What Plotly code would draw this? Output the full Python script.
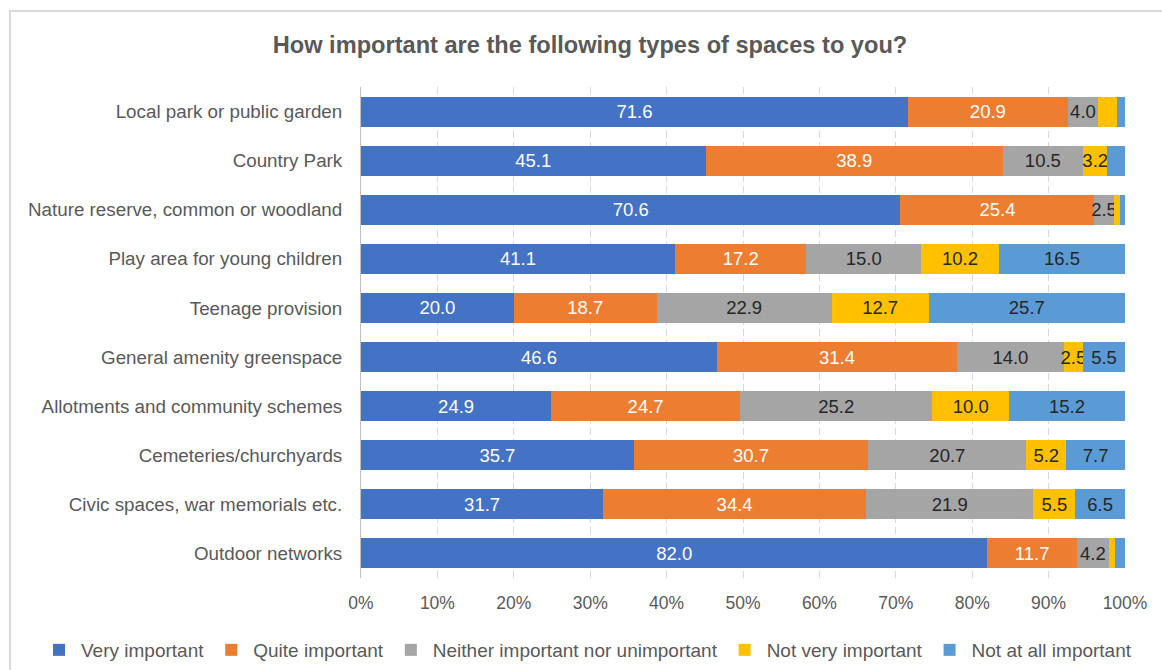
import plotly.graph_objects as go

# Survey responses, percent of respondents per type of space
categories = [
    "Local park or public garden",
    "Country Park",
    "Nature reserve, common or woodland",
    "Play area for young children",
    "Teenage provision",
    "General amenity greenspace",
    "Allotments and community schemes",
    "Cemeteries/churchyards",
    "Civic spaces, war memorials etc.",
    "Outdoor networks",
]
very_important = [71.6, 45.1, 70.6, 41.1, 20.0, 46.6, 24.9, 35.7, 31.7, 82.0]
quite_important = [20.9, 38.9, 25.4, 17.2, 18.7, 31.4, 24.7, 30.7, 34.4, 11.7]
neither = [4.0, 10.5, 2.5, 15.0, 22.9, 14.0, 25.2, 20.7, 21.9, 4.2]
not_very_important = [2.4, 3.2, 0.8, 10.2, 12.7, 2.5, 10.0, 5.2, 5.5, 0.8]
not_at_all_important = [1.1, 2.3, 0.7, 16.5, 25.7, 5.5, 15.2, 7.7, 6.5, 1.3]

series_names = [
    "Very important",
    "Quite important",
    "Neither important nor unimportant",
    "Not very important",
    "Not at all important",
]
series_values = [very_important, quite_important, neither,
                 not_very_important, not_at_all_important]
series_colors = ["#4472C4", "#ED7D31", "#A5A5A5", "#FFC000", "#5B9BD5"]
label_colors = ["#FFFFFF", "#FFFFFF", "#262626", "#262626", "#262626"]
x_ticks = list(range(0, 101, 10))

FONT = "Liberation Sans, Arial, sans-serif"
W, H = 1162, 670
ML, MR, MT, MB = 361, 37, 87, 92

fig = go.Figure()
for name, vals, col, lcol in zip(series_names, series_values, series_colors, label_colors):
    fig.add_trace(go.Bar(
        y=categories,
        x=vals,
        name=name,
        orientation="h",
        marker=dict(color=col, line=dict(width=0)),
        text=[f"{v:.1f}" if v >= 2.5 else "" for v in vals],
        textposition="inside",
        insidetextanchor="middle",
        textangle=0,
        constraintext="none",
        textfont=dict(family=FONT, size=18.5, color=lcol),
        hoverinfo="x+y+name",
    ))

# outer chart frame (light grey border, extending past right/bottom edges)
pw, ph = W - ML - MR, H - MT - MB
def px_x(p):
    return (p - ML) / pw
def px_y(p):
    return (H - MB - p) / ph

fig.add_shape(type="rect", xref="paper", yref="paper",
              x0=px_x(10), x1=px_x(W + 20), y0=px_y(H + 20), y1=px_y(11),
              line=dict(color="#D9D9D9", width=2), fillcolor="rgba(0,0,0,0)",
              layer="below")

fig.update_layout(
    width=W, height=H,
    barmode="stack",
    bargap=0.39,
    paper_bgcolor="white",
    plot_bgcolor="white",
    margin=dict(l=ML, r=MR, t=MT, b=MB, autoexpand=False),
    title=dict(
        text="<b>How important are the following types of spaces to you?</b>",
        x=590 / W, xanchor="center", xref="container",
        y=1 - 45 / H, yanchor="middle", yref="container",
        font=dict(family=FONT, size=23.6, color="#595959"),
    ),
    xaxis=dict(
        range=[0, 100],
        tickvals=x_ticks,
        ticktext=[f"{t}%" for t in x_ticks],
        showgrid=True,
        gridcolor="#D9D9D9",
        griddash="7px,4px",
        gridwidth=1,
        zeroline=False,
        showline=False,
        ticks="",
        ticklabelstandoff=12,
        tickfont=dict(family=FONT, size=17.5, color="#595959"),
        fixedrange=True,
    ),
    yaxis=dict(
        autorange="reversed",
        showline=True,
        linecolor="#BFBFBF",
        linewidth=1,
        showgrid=False,
        ticks="",
        ticklabelstandoff=14,
        tickfont=dict(family=FONT, size=18.8, color="#595959"),
        fixedrange=True,
    ),
    legend=dict(
        orientation="h",
        x=px_x(37), xanchor="left",
        y=px_y(650), yanchor="middle",
        font=dict(family=FONT, size=19, color="#595959"),
        traceorder="normal",
        itemwidth=34,
        bgcolor="rgba(0,0,0,0)",
    ),
    showlegend=True,
)

fig.write_html("out.html")
